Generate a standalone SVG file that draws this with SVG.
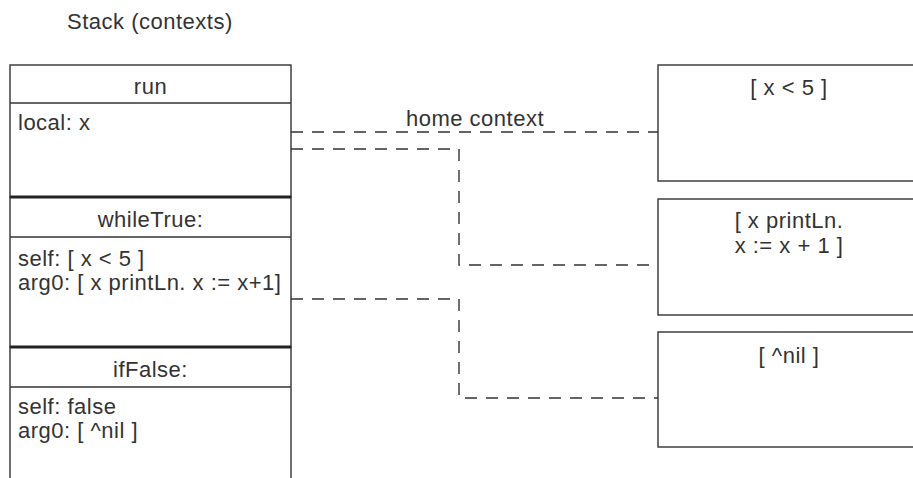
<svg xmlns="http://www.w3.org/2000/svg" width="913" height="478" viewBox="0 0 913 478">
  <style>
    text { font-family: "Liberation Sans", Arial, sans-serif; font-size: 22px; letter-spacing: 0.5px; fill: #333; }
    .mid { text-anchor: middle; }
    .box { fill: #fff; stroke: #333; stroke-width: 1.4; }
    .rule { stroke: #333; stroke-width: 1.4; }
    .sep { stroke: #222; stroke-width: 3; }
    .link { fill: none; stroke: #333; stroke-width: 1.4; stroke-dasharray: 12 9; }
  </style>
  <rect width="913" height="478" fill="#fff"/>

  <text x="67" y="29">Stack (contexts)</text>

  <!-- stack frames -->
  <g id="frame-run">
    <rect class="box" x="10" y="65" width="281" height="132"/>
    <line class="rule" x1="10" y1="103" x2="291" y2="103"/>
    <text class="mid" x="150.5" y="94">run</text>
    <text x="18" y="130">local: x</text>
  </g>
  <g id="frame-whileTrue">
    <rect class="box" x="10" y="197" width="281" height="150"/>
    <line class="rule" x1="10" y1="237" x2="291" y2="237"/>
    <text class="mid" x="150.5" y="227">whileTrue:</text>
    <text x="18" y="266">self: [ x &lt; 5 ]</text>
    <text x="18" y="290">arg0: [ x printLn. x := x+1]</text>
  </g>
  <g id="frame-ifFalse">
    <rect class="box" x="10" y="347" width="281" height="160"/>
    <line class="rule" x1="10" y1="387" x2="291" y2="387"/>
    <text class="mid" x="150.5" y="377">ifFalse:</text>
    <text x="18" y="414">self: false</text>
    <text x="18" y="438">arg0: [ ^nil ]</text>
  </g>
  <line class="sep" x1="10" y1="197" x2="291" y2="197"/>
  <line class="sep" x1="10" y1="347" x2="291" y2="347"/>

  <!-- block closures -->
  <g id="block-condition">
    <rect class="box" x="658" y="65" width="262" height="116"/>
    <text class="mid" x="789" y="95">[ x &lt; 5 ]</text>
  </g>
  <g id="block-body">
    <rect class="box" x="658" y="199" width="262" height="116"/>
    <text class="mid" x="789" y="228">[ x printLn.</text>
    <text class="mid" x="789" y="253">x := x + 1 ]</text>
  </g>
  <g id="block-nil">
    <rect class="box" x="658" y="332" width="262" height="115"/>
    <text class="mid" x="789" y="363">[ ^nil ]</text>
  </g>

  <!-- references -->
  <g id="connectors">
    <path class="link" d="M291 132 H658"/>
    <path class="link" d="M291 149 H459 V265 H658"/>
    <path class="link" d="M291 299 H459 V398 H658"/>
    <text class="mid" x="475" y="126">home context</text>
  </g>
</svg>
